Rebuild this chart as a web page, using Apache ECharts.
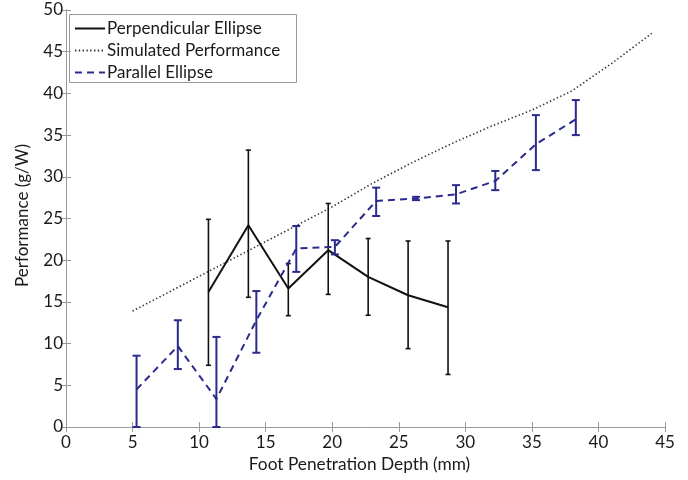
<!DOCTYPE html>
<html>
<head>
<meta charset="utf-8">
<script src="https://cdn.jsdelivr.net/npm/echarts@6/dist/echarts.min.js"></script>
<style>html,body{margin:0;padding:0;background:#fff}#c{width:688px;height:480px}</style>
</head>
<body>
<div id="c"></div>
<script>
// ---- data ----
const xTicks = [0, 5, 10, 15, 20, 25, 30, 35, 40, 45];
const yTicks = [0, 5, 10, 15, 20, 25, 30, 35, 40, 45, 50];

const perpX    = [10.7, 13.7, 16.7, 19.7, 22.7, 25.7, 28.7];
const perpY    = [16.2, 24.2, 16.6, 21.2, 18.0, 15.8, 14.35];
const perpLow  = [7.4, 15.55, 13.35, 15.9, 13.4, 9.4, 6.3];
const perpHigh = [24.9, 33.2, 19.6, 26.8, 22.6, 22.3, 22.3];

const simX = [5, 8, 11, 14, 17, 20, 23, 26, 29, 32, 35, 38, 41, 44];
const simY = [13.9, 16.4, 18.9, 21.4, 23.9, 26.4, 29.2, 31.7, 34.0, 36.1, 38.0, 40.3, 43.6, 47.2];

const parX    = [5.3, 8.4, 11.3, 14.3, 17.3, 20.2, 23.3, 26.3, 29.3, 32.25, 35.3, 38.3];
const parY    = [4.5, 9.7, 3.35, 12.8, 21.4, 21.6, 27.1, 27.4, 27.9, 29.5, 33.9, 36.9];
const parLow  = [0, 6.95, 0, 8.9, 18.6, 20.7, 25.3, 27.2, 26.8, 28.4, 30.8, 35.0];
const parHigh = [8.55, 12.8, 10.8, 16.3, 24.1, 22.4, 28.7, 27.6, 29.0, 30.7, 37.4, 39.2];

const FONT = 'Lato';
const BLUE = '#2b2b8e';

function zip(a, b) { return a.map((v, i) => [v, b[i]]); }
function zip3(a, b, c) { return a.map((v, i) => [v, b[i], c[i]]); }

function errRender(color, capHalf, width) {
  return function (params, api) {
    const x = api.value(0);
    const lo = api.coord([x, api.value(1)]);
    const hi = api.coord([x, api.value(2)]);
    const st = { stroke: color, lineWidth: width };
    return {
      type: 'group',
      children: [
        { type: 'line', shape: { x1: lo[0], y1: lo[1], x2: hi[0], y2: hi[1] }, style: st },
        { type: 'line', shape: { x1: lo[0] - capHalf, y1: lo[1], x2: lo[0] + capHalf, y2: lo[1] }, style: st },
        { type: 'line', shape: { x1: hi[0] - capHalf, y1: hi[1], x2: hi[0] + capHalf, y2: hi[1] }, style: st }
      ]
    };
  };
}

const axisCommon = {
  type: 'value',
  interval: 5,
  axisLine: { show: true, lineStyle: { color: '#9a9a9a', width: 1 } },
  axisTick: { show: true, inside: true, length: 5, lineStyle: { color: '#9a9a9a' } },
  splitLine: { show: false }
};

const chart = echarts.init(document.getElementById('c'), null, { renderer: 'canvas' });
chart.setOption({
  animation: false,
  backgroundColor: '#fff',
  grid: { left: 66, right: 23, top: 10, bottom: 53, containLabel: false },
  xAxis: [
    Object.assign({}, axisCommon, {
      min: 0, max: 45, position: 'bottom',
      name: 'Foot Penetration Depth (mm)', nameLocation: 'middle', nameGap: 29,
      nameTextStyle: { fontFamily: FONT, fontSize: 17.3, color: '#1a1a1a', padding: [0, 12, 0, 0] },
      axisLabel: { margin: 7, fontFamily: FONT, fontSize: 17, color: '#1a1a1a',
        formatter: v => xTicks.includes(v) ? String(v) : '' }
    }),
    Object.assign({}, axisCommon, { min: 0, max: 45, position: 'top', axisLabel: { show: false } })
  ],
  yAxis: [
    Object.assign({}, axisCommon, {
      min: 0, max: 50, position: 'left',
      name: 'Performance (g/W)', nameLocation: 'middle', nameGap: 35,
      nameTextStyle: { fontFamily: FONT, fontSize: 17, color: '#1a1a1a', padding: [0, 0, 0, 6] },
      axisLabel: { margin: 3, fontFamily: FONT, fontSize: 17, color: '#1a1a1a',
        formatter: v => yTicks.includes(v) ? String(v) : '' }
    }),
    Object.assign({}, axisCommon, { min: 0, max: 50, position: 'right', axisLabel: { show: false } })
  ],
  legend: {
    orient: 'vertical', left: 70, top: 16,
    padding: [4, 4, 4, 4],
    itemWidth: 30, itemHeight: 14, itemGap: 5,
    itemStyle: { opacity: 0 },
    textStyle: { fontFamily: FONT, fontSize: 17, color: '#1a1a1a', padding: [0, 0, 0, -3] },
    data: ['Perpendicular Ellipse', 'Simulated Performance', 'Parallel Ellipse']
  },
  graphic: [{
    type: 'rect', left: 69, top: 14, z: 0,
    shape: { width: 227, height: 68 },
    style: { fill: '#fff', stroke: '#9a9a9a', lineWidth: 1 }
  }],
  series: [
    {
      name: 'Perpendicular Ellipse', type: 'line', data: zip(perpX, perpY),
      symbol: 'none', lineStyle: { color: '#111', width: 2 }, itemStyle: { color: '#111' }, z: 5
    },
    {
      name: 'Simulated Performance', type: 'line', data: zip(simX, simY),
      symbol: 'none', lineStyle: { color: '#333', width: 1.6, type: [1.4, 2.4] }, itemStyle: { color: '#333' }, z: 4
    },
    {
      name: 'Parallel Ellipse', type: 'line', data: zip(parX, parY),
      symbol: 'none', lineStyle: { color: BLUE, width: 2, type: [7, 5] }, itemStyle: { color: BLUE }, z: 6
    },
    {
      type: 'custom', data: zip3(perpX, perpLow, perpHigh),
      renderItem: errRender('#111', 2.5, 1.6), z: 5, encode: { x: 0, y: [1, 2] }
    },
    {
      type: 'custom', data: zip3(parX, parLow, parHigh),
      renderItem: errRender(BLUE, 4, 2), z: 6, encode: { x: 0, y: [1, 2] }
    }
  ]
});
</script>
</body>
</html>
